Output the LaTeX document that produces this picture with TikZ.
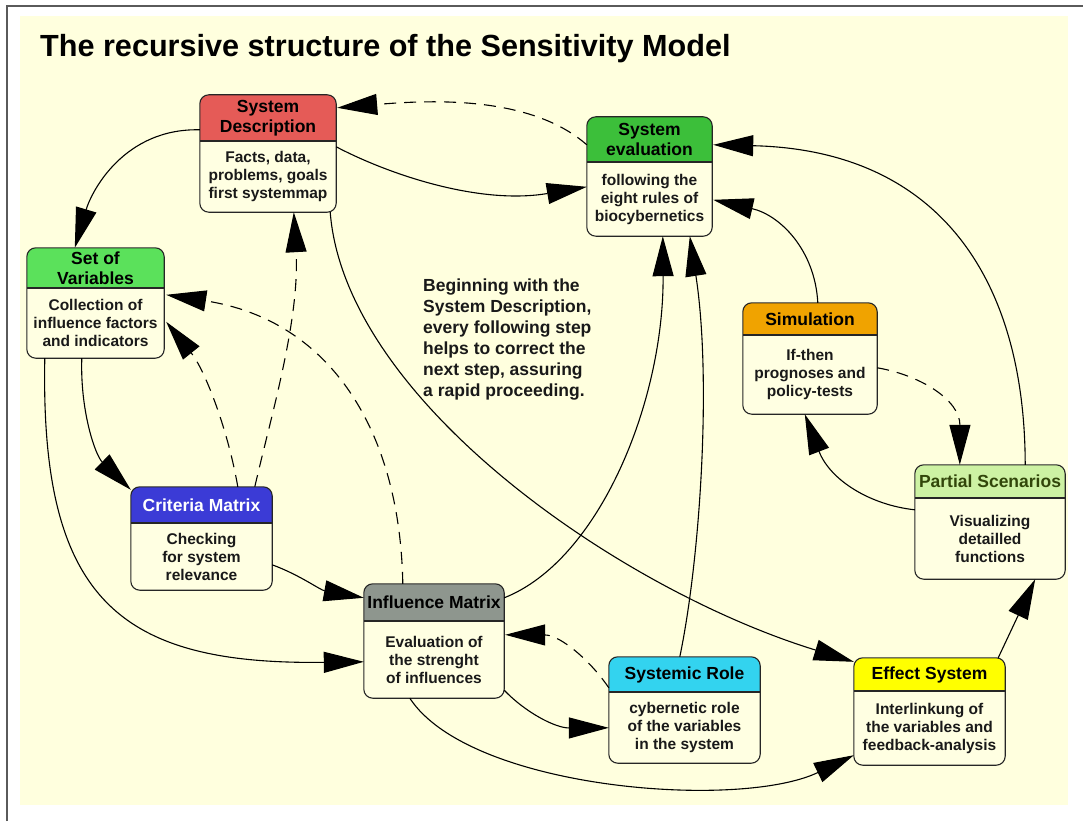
\documentclass[tikz,border=0pt]{standalone}
\usepackage{fontspec}
\setmainfont{Liberation Sans}
\usetikzlibrary{arrows.meta,calc}
\definecolor{bgc}{RGB}{255,255,222}
\definecolor{bodyc}{RGB}{255,255,226}
\definecolor{framec}{RGB}{90,90,90}
\definecolor{hred}{RGB}{229,91,87}
\definecolor{hgreenA}{RGB}{60,191,58}
\definecolor{hgreenB}{RGB}{91,225,91}
\definecolor{hblue}{RGB}{59,59,214}
\definecolor{hgray}{RGB}{142,150,142}
\definecolor{hcyan}{RGB}{51,211,239}
\definecolor{hyellow}{RGB}{255,255,0}
\definecolor{horange}{RGB}{240,163,0}
\definecolor{hlgreen}{RGB}{205,242,163}
\definecolor{olive}{RGB}{50,70,10}
\tikzset{
  boxline/.style={draw=black!85, line width=1.1pt},
  headtext/.style={font=\fontsize{17.5}{20}\selectfont\bfseries, align=center, inner sep=0pt, text=black},
  bodytext/.style={font=\fontsize{15.5}{18}\selectfont\bfseries, align=center, inner sep=0pt, text=black!90},
  con/.style={line width=1.1pt, -{Triangle[length=40pt,width=21pt]}},
  dcon/.style={con, dash pattern=on 12pt off 8pt},
}
\newcommand{\mkbox}[9]{%
  \node[draw=none, fill=bodyc, rounded corners=9pt, minimum width={#4-#2}, minimum height={#5-#3}, inner sep=0pt] (#1) at ({(#2+#4)/2},{(#3+#5)/2}) {};
  \begin{scope}
    \clip[rounded corners=9pt] (#1.north west) rectangle (#1.south east);
    \fill[#7] (#1.north west) rectangle (#4,#6);
  \end{scope}
  \draw[boxline, rounded corners=9pt] (#1.north west) rectangle (#1.south east);
  \draw[boxline] (#2,#6) -- (#4,#6);
  \node[headtext] (#1h) at ({(#2+#4)/2},{(#3+#6)/2}) {#8};
  \node[bodytext] (#1b) at ({(#2+#4)/2},{(#6+#5)/2}) {#9};
}
\begin{document}
\begin{tikzpicture}[x=1pt,y=-1pt]
\useasboundingbox (0,0) rectangle (1083,821);
\fill[white] (0,0) rectangle (1083,821);
\fill[bgc] (20,16) rectangle (1068,805);
\draw[framec, line width=1.5pt] (7,821) -- (7,6) -- (1083,6);
\node[anchor=base west, inner sep=0pt, font=\fontsize{30.6}{34}\selectfont\bfseries] (title) at (40,57) {The recursive structure of the Sensitivity Model};

\mkbox{sd}{200}{95}{336}{212}{141}{hred}{System\\Description}{Facts, data,\\problems, goals\\first systemmap}
\mkbox{se}{587}{117}{712}{236}{162}{hgreenA}{System\\evaluation}{following the\\eight rules of\\biocybernetics}
\mkbox{sv}{27}{248}{164}{358}{288}{hgreenB}{Set of\\Variables}{Collection of\\influence factors\\and indicators}
\mkbox{cm}{131}{487}{272}{590}{523}{hblue}{\textcolor{white}{Criteria Matrix}}{Checking\\for system\\relevance}
\mkbox{im}{364}{584}{504}{698}{621}{hgray}{Influence Matrix}{Evaluation of\\the strenght\\of influences}
\mkbox{sr}{609}{657}{760}{763}{692}{hcyan}{Systemic Role}{cybernetic role\\of the variables\\in the system}
\mkbox{es}{854}{658}{1005}{765}{691}{hyellow}{Effect System}{Interlinkung of\\the variables and\\feedback-analysis}
\mkbox{sim}{743}{303}{877}{414}{335}{horange}{Simulation}{If-then\\prognoses and\\policy-tests}
\mkbox{ps}{915}{465}{1065}{579}{498}{hlgreen}{\textcolor{olive}{Partial Scenarios}}{Visualizing\\detailled\\functions}

\node[anchor=north west, inner sep=0pt, align=left, font=\fontsize{17.5}{21}\selectfont\bfseries, text=black!90] (note) at (423,279) {Beginning with the\\System Description,\\every following step\\helps to correct the\\next step, assuring\\a rapid proceeding.};

% connectors
\draw[con] ($(sd.north west)+(0,35)$) .. controls (125,128) and (92,190) .. ($(sv.north west)+(48,0)$);
\draw[dcon] ($(se.north west)+(0,28)$) .. controls (530,95) and (430,100) .. ($(sd.north east)+(1,13)$);
\draw[con] ($(sd.north east)+(0,52)$) .. controls (390,175) and (480,205) .. ($(se.north west)+(0,70)$);
\draw[con] ($(sd.south east)+(-6,0)$) .. controls (345,400) and (620,590) .. ($(es.north west)+(0,4)$);
\draw[con] ($(sv.south west)+(55,0)$) .. controls (80,410) and (95,455) .. ($(cm.north west)+(0,3)$);
\draw[con] ($(sv.south west)+(18,0)$) .. controls (40,600) and (120,665) .. ($(im.north west)+(0,78)$);
\draw[con] ($(cm.north east)+(0,78)$) .. controls (300,575) and (320,590) .. ($(im.north west)+(0,14)$);
\draw[dcon] ($(cm.north west)+(124,0)$) .. controls (270,420) and (300,320) .. ($(sd.south west)+(94,0)$);
\draw[dcon] ($(cm.north west)+(107,0)$) .. controls (228,430) and (205,370) .. ($(sv.north east)+(2,74)$);
\draw[dcon] ($(im.north west)+(39,0)$) .. controls (400,430) and (330,320) .. ($(sv.north east)+(2,47)$);
\draw[con] ($(im.north east)+(0,14)$) .. controls (600,560) and (664,400) .. ($(se.south west)+(76,0)$);
\draw[con] ($(sr.north west)+(71,0)$) .. controls (700,560) and (712,380) .. ($(se.south west)+(103,0)$);
\draw[dcon] ($(sr.north west)+(0,31)$) .. controls (590,660) and (560,635) .. ($(im.north east)+(1,51)$);
\draw[con] ($(im.south east)+(0,-8)$) .. controls (525,712) and (555,728) .. ($(sr.north west)+(0,71)$);
\draw[con] ($(im.south west)+(46,0)$) .. controls (470,790) and (740,810) .. ($(es.south west)+(0,-10)$);
\draw[con] ($(es.north east)+(-7,0)$) -- ($(ps.south east)+(-30,0)$);
\draw[con] ($(ps.north east)+(-40,0)$) .. controls (1025,280) and (940,150) .. ($(se.north east)+(1,28)$);
\draw[con] ($(sim.north west)+(75,0)$) .. controls (815,250) and (780,215) .. ($(se.north east)+(1,83)$);
\draw[dcon] ($(sim.north east)+(0,65)$) .. controls (920,375) and (960,400) .. ($(ps.north west)+(45,0)$);
\draw[con] ($(ps.north west)+(0,45)$) .. controls (870,505) and (830,480) .. ($(sim.south west)+(62,0)$);
\end{tikzpicture}
\end{document}
